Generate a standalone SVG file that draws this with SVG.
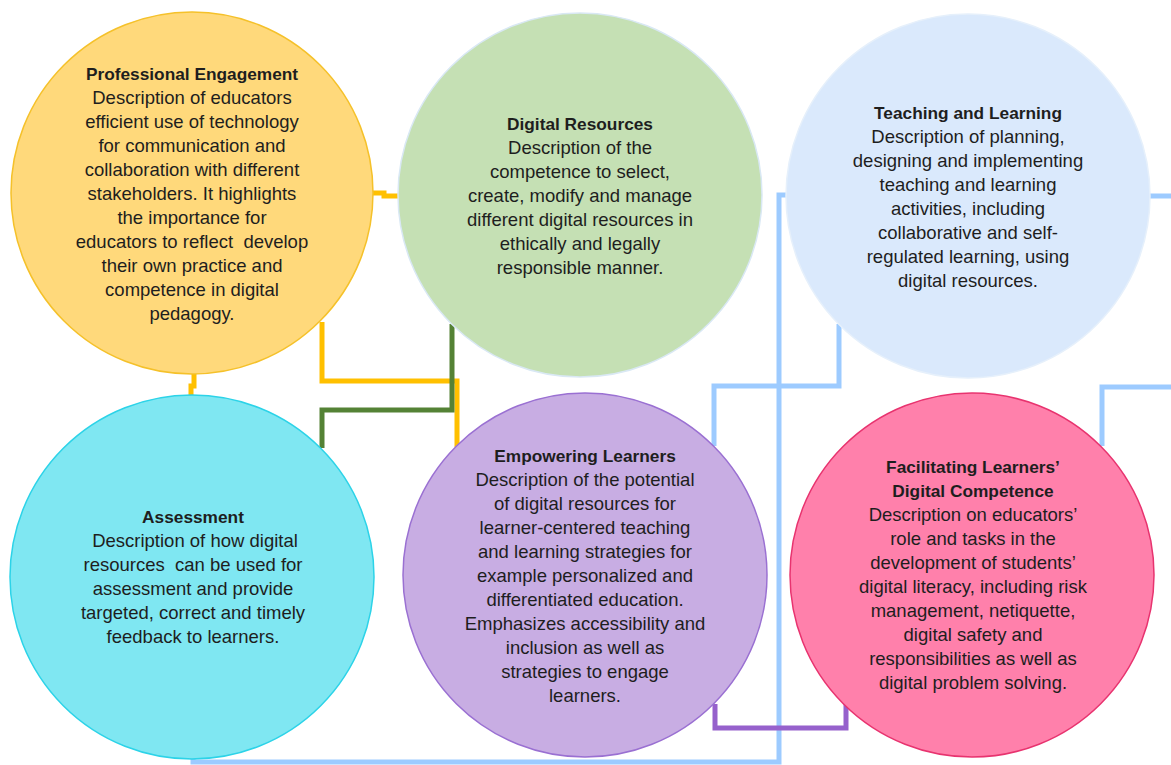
<svg xmlns="http://www.w3.org/2000/svg" width="1171" height="765" viewBox="0 0 1171 765">
<style>
.c{fill:none;stroke-width:5;stroke-linejoin:miter;stroke-linecap:butt}
.or{stroke:#FFC000}.gr{stroke:#548235}.bl{stroke:#9DCBFF}.pu{stroke:#9661CC}
.n{stroke-width:1.5}
text{font-family:"Liberation Sans",Arial,sans-serif;font-size:18.5px;fill:#1e1e1e;text-anchor:middle}
.t{font-weight:bold;font-size:17.3px}
</style>
<rect width="1171" height="765" fill="#ffffff"/>
<g id="connectors">
<path class="c or" d="M372,193 H384 V196 H399"/>
<path class="c or" d="M322,322 V381 H457 V447"/>
<path class="c or" d="M194,374 V386 H191 V396"/>
<path class="c gr" d="M452,324 V410 H322 V448"/>
<path class="c bl" d="M787,195 H779 V762 H193 V757"/>
<path class="c bl" d="M839,324 V386 H714 V446"/>
<path class="c bl" d="M1149,196 H1171"/>
<path class="c bl" d="M1102,446 V387 H1171"/>
<path class="c pu" d="M715,704 V728 H846 V702"/>
</g>
<g id="professional-engagement">
<circle class="n" cx="192" cy="193" r="181" fill="#FFD97B" stroke="#F5C12A"/>
<text xml:space="preserve"><tspan class="t" x="192" y="80">Professional Engagement</tspan><tspan x="192" y="104">Description of educators</tspan><tspan x="192" y="128">efficient use of technology</tspan><tspan x="192" y="152">for communication and</tspan><tspan x="192" y="176">collaboration with different</tspan><tspan x="192" y="200">stakeholders. It highlights</tspan><tspan x="192" y="224">the importance for</tspan><tspan x="192" y="248">educators to reflect  develop</tspan><tspan x="192" y="272">their own practice and</tspan><tspan x="192" y="296">competence in digital</tspan><tspan x="192" y="320">pedagogy.</tspan></text>
</g>
<g id="digital-resources">
<circle class="n" cx="580" cy="195" r="182" fill="#C5E0B4" stroke="#D9E8F4"/>
<text><tspan class="t" x="580" y="130">Digital Resources</tspan><tspan x="580" y="154">Description of the</tspan><tspan x="580" y="178">competence to select,</tspan><tspan x="580" y="202">create, modify and manage</tspan><tspan x="580" y="226">different digital resources in</tspan><tspan x="580" y="250">ethically and legally</tspan><tspan x="580" y="274">responsible manner.</tspan></text>
</g>
<g id="teaching-and-learning">
<circle class="n" cx="968" cy="196" r="182" fill="#DAE9FC" stroke="#E6F0FB"/>
<text><tspan class="t" x="968" y="119">Teaching and Learning</tspan><tspan x="968" y="143">Description of planning,</tspan><tspan x="968" y="167">designing and implementing</tspan><tspan x="968" y="191">teaching and learning</tspan><tspan x="968" y="215">activities, including</tspan><tspan x="968" y="239">collaborative and self-</tspan><tspan x="968" y="263">regulated learning, using</tspan><tspan x="968" y="287">digital resources.</tspan></text>
</g>
<g id="assessment">
<circle class="n" cx="192" cy="577" r="182" fill="#7FE7F2" stroke="#2CD3E8"/>
<text xml:space="preserve"><tspan class="t" x="193" y="523">Assessment</tspan><tspan x="195" y="547">Description of how digital</tspan><tspan x="193" y="571">resources  can be used for</tspan><tspan x="193" y="595">assessment and provide</tspan><tspan x="193" y="619">targeted, correct and timely</tspan><tspan x="193" y="643">feedback to learners.</tspan></text>
</g>
<g id="empowering-learners">
<circle class="n" cx="585" cy="575" r="182" fill="#C8ADE3" stroke="#9A70D2"/>
<text><tspan class="t" x="585" y="462">Empowering Learners</tspan><tspan x="585" y="486">Description of the potential</tspan><tspan x="585" y="510">of digital resources for</tspan><tspan x="585" y="534">learner-centered teaching</tspan><tspan x="585" y="558">and learning strategies for</tspan><tspan x="585" y="582">example personalized and</tspan><tspan x="585" y="606">differentiated education.</tspan><tspan x="585" y="630">Emphasizes accessibility and</tspan><tspan x="585" y="654">inclusion as well as</tspan><tspan x="585" y="678">strategies to engage</tspan><tspan x="585" y="702">learners.</tspan></text>
</g>
<g id="facilitating-learners-digital-competence">
<circle class="n" cx="972" cy="575" r="182" fill="#FF80AB" stroke="#E8336F"/>
<text><tspan class="t" x="973" y="473">Facilitating Learners’</tspan><tspan class="t" x="973" y="497">Digital Competence</tspan><tspan x="973" y="521">Description on educators’</tspan><tspan x="973" y="545">role and tasks in the</tspan><tspan x="973" y="569">development of students’</tspan><tspan x="973" y="593">digital literacy, including risk</tspan><tspan x="973" y="617">management, netiquette,</tspan><tspan x="973" y="641">digital safety and</tspan><tspan x="973" y="665">responsibilities as well as</tspan><tspan x="973" y="689">digital problem solving.</tspan></text>
</g>
</svg>
